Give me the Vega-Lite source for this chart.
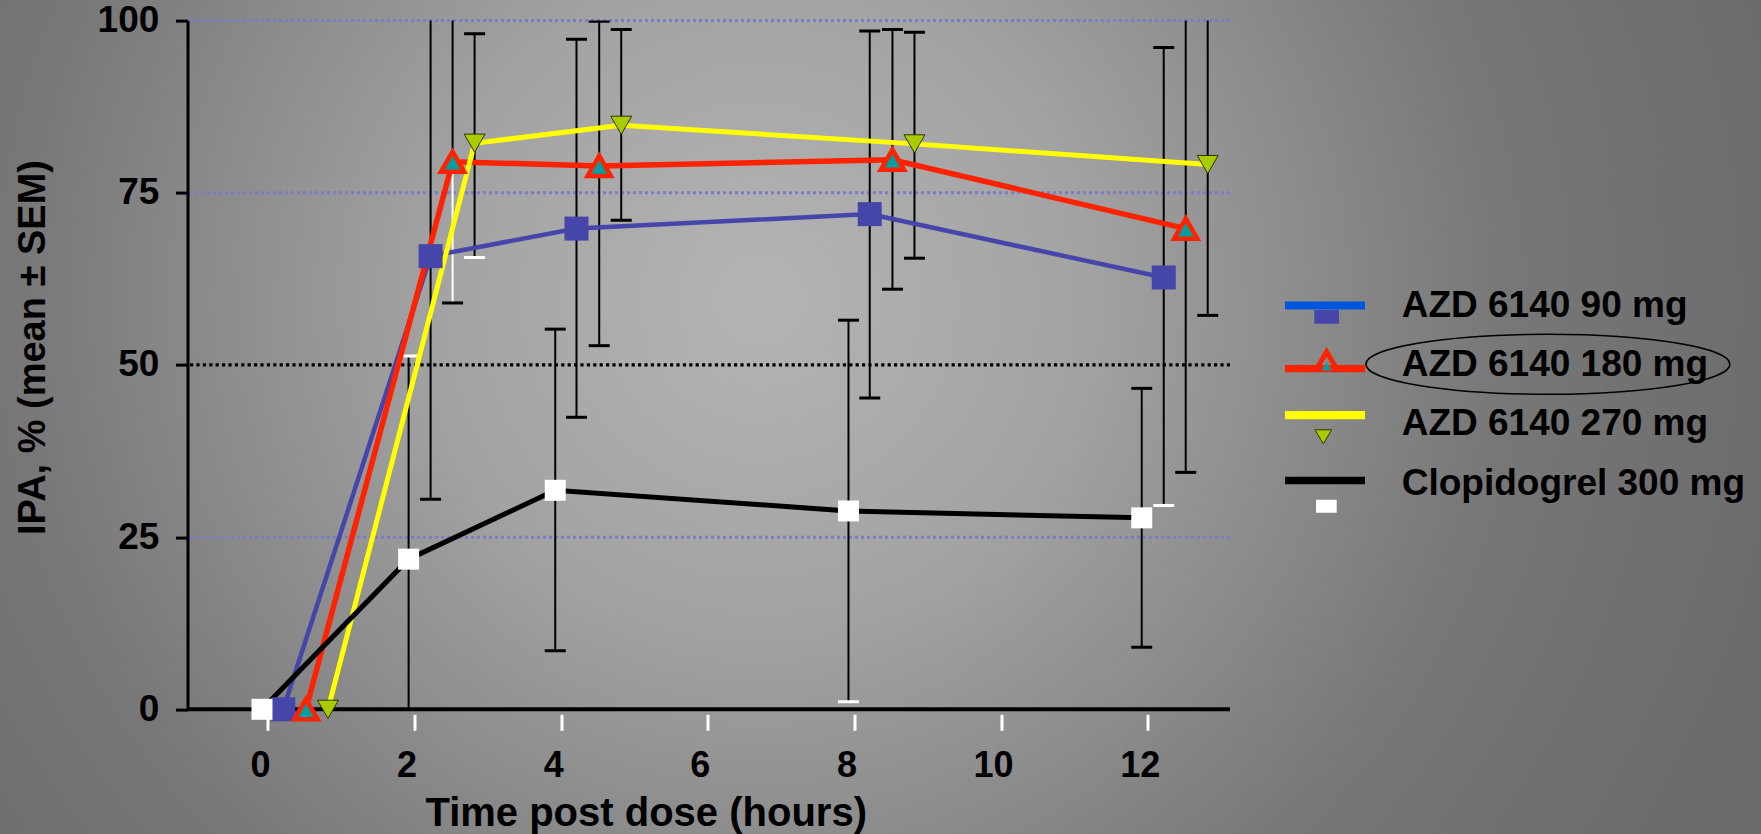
{
  "$schema": "https://vega.github.io/schema/vega-lite/v6.json",
  "width": 1042.5,
  "height": 688.7,
  "autosize": {"type": "none"},
  "padding": {"left": 187.5, "top": 20.6, "right": 531, "bottom": 124.7},
  "background": "#8a8a8a",
  "config": {
    "font": "Liberation Sans",
    "view": {"stroke": null},
    "axisX": {"domain": false, "grid": false, "offset": 5, "ticks": true, "tickColor": "white", "tickSize": 16, "tickWidth": 3, "tickOffset": 6, "labelOffset": -8,
      "labelFont": "Liberation Sans", "labelFontSize": 36, "labelFontWeight": "bold", "labelColor": "black", "labelPadding": 18, "labelFlush": false, "labelBaseline": "top",
      "titleFont": "Liberation Sans", "titleFontSize": 40, "titleFontWeight": "bold", "titleColor": "black",
      "titleX": 458.2, "titleY": 111, "titleBaseline": "alphabetic", "titleAlign": "center"},
    "axisY": {"domain": true, "domainColor": "black", "domainWidth": 3, "grid": false, "tickColor": "black", "tickSize": 12, "tickWidth": 3,
      "labelFont": "Liberation Sans", "labelFontSize": 37, "labelFontWeight": "bold", "labelColor": "black", "labelPadding": 16.7, "labelFlush": false,
      "titleFont": "Liberation Sans", "titleFontSize": 38, "titleFontWeight": "bold", "titleColor": "black",
      "titleAngle": 270, "titleX": -143, "titleY": 326.4, "titleBaseline": "alphabetic", "titleAlign": "center"}
  },
  "data": {"values": [
    {"series": "AZD 6140 90 mg", "dose": 90, "time": 0, "x": 0.29, "ipa": 0, "lo": 0, "hi": 0},
    {"series": "AZD 6140 90 mg", "dose": 90, "time": 2, "x": 2.30, "ipa": 65.8, "lo": 30.5, "hi": 101.1},
    {"series": "AZD 6140 90 mg", "dose": 90, "time": 4, "x": 4.29, "ipa": 69.8, "lo": 42.4, "hi": 97.3},
    {"series": "AZD 6140 90 mg", "dose": 90, "time": 8, "x": 8.29, "ipa": 71.9, "lo": 45.2, "hi": 98.5},
    {"series": "AZD 6140 90 mg", "dose": 90, "time": 12, "x": 12.30, "ipa": 62.7, "lo": 29.6, "hi": 96.1},
    {"series": "AZD 6140 180 mg", "dose": 180, "time": 0, "x": 0.60, "ipa": 0, "lo": 0, "hi": 0},
    {"series": "AZD 6140 180 mg", "dose": 180, "time": 2, "x": 2.60, "ipa": 79.5, "lo": 59.0, "hi": 100.5},
    {"series": "AZD 6140 180 mg", "dose": 180, "time": 4, "x": 4.60, "ipa": 78.9, "lo": 52.8, "hi": 99.9},
    {"series": "AZD 6140 180 mg", "dose": 180, "time": 8, "x": 8.60, "ipa": 79.8, "lo": 61.0, "hi": 98.7},
    {"series": "AZD 6140 180 mg", "dose": 180, "time": 12, "x": 12.60, "ipa": 69.8, "lo": 34.4, "hi": 105.2},
    {"series": "AZD 6140 270 mg", "dose": 270, "time": 0, "x": 0.90, "ipa": 0, "lo": 0, "hi": 0},
    {"series": "AZD 6140 270 mg", "dose": 270, "time": 2, "x": 2.90, "ipa": 82.2, "lo": 65.6, "hi": 98.1},
    {"series": "AZD 6140 270 mg", "dose": 270, "time": 4, "x": 4.90, "ipa": 84.8, "lo": 71.0, "hi": 98.7},
    {"series": "AZD 6140 270 mg", "dose": 270, "time": 8, "x": 8.90, "ipa": 82.1, "lo": 65.5, "hi": 98.3},
    {"series": "AZD 6140 270 mg", "dose": 270, "time": 12, "x": 12.90, "ipa": 79.1, "lo": 57.2, "hi": 101.0},
    {"series": "Clopidogrel 300 mg", "dose": 300, "time": 0, "x": 0.0, "ipa": 0, "lo": 0, "hi": 0},
    {"series": "Clopidogrel 300 mg", "dose": 300, "time": 2, "x": 2.0, "ipa": 21.8, "lo": -7.7, "hi": 51.3},
    {"series": "Clopidogrel 300 mg", "dose": 300, "time": 4, "x": 4.0, "ipa": 31.8, "lo": 8.5, "hi": 55.2},
    {"series": "Clopidogrel 300 mg", "dose": 300, "time": 8, "x": 8.0, "ipa": 28.8, "lo": 1.1, "hi": 56.5},
    {"series": "Clopidogrel 300 mg", "dose": 300, "time": 12, "x": 12.0, "ipa": 27.8, "lo": 9.0, "hi": 46.6}
  ]},
  "layer": [
    {
      "data": {"values": [{}]},
      "mark": {"type": "rect", "fill": {"gradient": "radial", "x1": 0.4318, "y1": 0.4346, "r1": 0, "x2": 0.4318, "y2": 0.4346, "r2": 0.6, "stops": [{"offset": 0, "color": "#b4b4b4"}, {"offset": 0.3, "color": "#a3a3a3"}, {"offset": 0.7, "color": "#777777"}, {"offset": 1, "color": "#6a6a6a"}]}},
      "encoding": {
        "x": {"datum": -3.7, "type": "quantitative", "scale": {"domain": [-1.016, 13.204], "nice": false, "zero": false}, "axis": {"values": [0, 2, 4, 6, 8, 10, 12], "title": "Time post dose (hours)", "zindex": 1}},
        "x2": {"datum": 20.6},
        "y": {"datum": -18.5, "type": "quantitative", "scale": {"domain": [0, 100], "nice": false, "zero": false}, "axis": {"values": [0, 25, 50, 75, 100], "title": "IPA, % (mean ± SEM)", "zindex": 1}},
        "y2": {"datum": 103.5}
      }
    },
    {
      "data": {"values": [{}]},
      "mark": {"type": "rule", "color": "#7b7bc8", "strokeWidth": 3, "strokeDash": [3, 3]},
      "encoding": {"y": {"datum": 25, "type": "quantitative", "scale": {"domain": [0, 100], "nice": false, "zero": false}, "axis": {"values": [0, 25, 50, 75, 100], "title": "IPA, % (mean ± SEM)", "zindex": 1}}}
    },
    {
      "data": {"values": [{}]},
      "mark": {"type": "rule", "color": "#7b7bc8", "strokeWidth": 3, "strokeDash": [3, 3]},
      "encoding": {"y": {"datum": 75, "type": "quantitative", "scale": {"domain": [0, 100], "nice": false, "zero": false}, "axis": {"values": [0, 25, 50, 75, 100], "title": "IPA, % (mean ± SEM)", "zindex": 1}}}
    },
    {
      "data": {"values": [{}]},
      "mark": {"type": "rule", "color": "#7b7bc8", "strokeWidth": 3, "strokeDash": [3, 3]},
      "encoding": {"y": {"datum": 100, "type": "quantitative", "scale": {"domain": [0, 100], "nice": false, "zero": false}, "axis": {"values": [0, 25, 50, 75, 100], "title": "IPA, % (mean ± SEM)", "zindex": 1}}}
    },
    {
      "data": {"values": [{}]},
      "mark": {"type": "rule", "color": "black", "strokeWidth": 3.2, "strokeDash": [3.2, 3.2]},
      "encoding": {"y": {"datum": 50, "type": "quantitative", "scale": {"domain": [0, 100], "nice": false, "zero": false}, "axis": {"values": [0, 25, 50, 75, 100], "title": "IPA, % (mean ± SEM)", "zindex": 1}}}
    },
    {
      "transform": [{"filter": "datum.time > 0"}],
      "mark": {"type": "rule", "strokeWidth": 2, "clip": true, "color": "black"},
      "encoding": {
        "x": {"field": "x", "type": "quantitative", "scale": {"domain": [-1.016, 13.204], "nice": false, "zero": false}, "axis": {"values": [0, 2, 4, 6, 8, 10, 12], "title": "Time post dose (hours)", "zindex": 1}},
        "y": {"field": "ipa", "type": "quantitative", "scale": {"domain": [0, 100], "nice": false, "zero": false}, "axis": {"values": [0, 25, 50, 75, 100], "title": "IPA, % (mean ± SEM)", "zindex": 1}},
        "y2": {"field": "hi"}
      }
    },
    {
      "transform": [{"filter": "datum.time > 0"}],
      "mark": {"type": "rule", "strokeWidth": 2, "clip": true},
      "encoding": {
        "x": {"field": "x", "type": "quantitative", "scale": {"domain": [-1.016, 13.204], "nice": false, "zero": false}, "axis": {"values": [0, 2, 4, 6, 8, 10, 12], "title": "Time post dose (hours)", "zindex": 1}},
        "y": {"field": "lo", "type": "quantitative", "scale": {"domain": [0, 100], "nice": false, "zero": false}, "axis": {"values": [0, 25, 50, 75, 100], "title": "IPA, % (mean ± SEM)", "zindex": 1}},
        "y2": {"field": "ipa"},
        "color": {"condition": {"test": "datum.dose === 180 && datum.time === 2", "value": "white"}, "value": "black"}
      }
    },
    {
      "transform": [{"filter": "datum.time > 0"}],
      "mark": {"type": "point", "shape": "M-1,0H1", "size": 441, "filled": false, "strokeWidth": 3, "opacity": 1, "clip": true},
      "encoding": {
        "x": {"field": "x", "type": "quantitative", "scale": {"domain": [-1.016, 13.204], "nice": false, "zero": false}, "axis": {"values": [0, 2, 4, 6, 8, 10, 12], "title": "Time post dose (hours)", "zindex": 1}},
        "y": {"field": "hi", "type": "quantitative", "scale": {"domain": [0, 100], "nice": false, "zero": false}, "axis": {"values": [0, 25, 50, 75, 100], "title": "IPA, % (mean ± SEM)", "zindex": 1}},
        "color": {"condition": {"test": "datum.dose === 300 && datum.time === 2", "value": "white"}, "value": "black"}
      }
    },
    {
      "transform": [{"filter": "datum.time > 0"}],
      "mark": {"type": "point", "shape": "M-1,0H1", "size": 441, "filled": false, "strokeWidth": 3, "opacity": 1, "clip": true},
      "encoding": {
        "x": {"field": "x", "type": "quantitative", "scale": {"domain": [-1.016, 13.204], "nice": false, "zero": false}, "axis": {"values": [0, 2, 4, 6, 8, 10, 12], "title": "Time post dose (hours)", "zindex": 1}},
        "y": {"field": "lo", "type": "quantitative", "scale": {"domain": [0, 100], "nice": false, "zero": false}, "axis": {"values": [0, 25, 50, 75, 100], "title": "IPA, % (mean ± SEM)", "zindex": 1}},
        "color": {"condition": {"test": "(datum.dose === 270 && datum.time === 2) || (datum.dose === 300 && datum.time === 8) || (datum.dose === 90 && datum.time === 12)", "value": "white"}, "value": "black"}
      }
    },
    {
      "data": {"values": [{}]},
      "mark": {"type": "rule", "color": "black", "strokeWidth": 4},
      "encoding": {"y": {"datum": 0, "type": "quantitative", "scale": {"domain": [0, 100], "nice": false, "zero": false}, "axis": {"values": [0, 25, 50, 75, 100], "title": "IPA, % (mean ± SEM)", "zindex": 1}}}
    },
    {
      "transform": [{"filter": "datum.dose === 90"}],
      "mark": {"type": "line", "color": "#4545aa", "strokeWidth": 4.5},
      "encoding": {
        "x": {"field": "x", "type": "quantitative", "scale": {"domain": [-1.016, 13.204], "nice": false, "zero": false}, "axis": {"values": [0, 2, 4, 6, 8, 10, 12], "title": "Time post dose (hours)", "zindex": 1}},
        "y": {"field": "ipa", "type": "quantitative", "scale": {"domain": [0, 100], "nice": false, "zero": false}, "axis": {"values": [0, 25, 50, 75, 100], "title": "IPA, % (mean ± SEM)", "zindex": 1}}
      }
    },
    {
      "transform": [{"filter": "datum.dose === 180"}],
      "mark": {"type": "line", "color": "#ff2200", "strokeWidth": 5.5},
      "encoding": {
        "x": {"field": "x", "type": "quantitative", "scale": {"domain": [-1.016, 13.204], "nice": false, "zero": false}, "axis": {"values": [0, 2, 4, 6, 8, 10, 12], "title": "Time post dose (hours)", "zindex": 1}},
        "y": {"field": "ipa", "type": "quantitative", "scale": {"domain": [0, 100], "nice": false, "zero": false}, "axis": {"values": [0, 25, 50, 75, 100], "title": "IPA, % (mean ± SEM)", "zindex": 1}}
      }
    },
    {
      "transform": [{"filter": "datum.dose === 270"}],
      "mark": {"type": "line", "color": "#ffff00", "strokeWidth": 5},
      "encoding": {
        "x": {"field": "x", "type": "quantitative", "scale": {"domain": [-1.016, 13.204], "nice": false, "zero": false}, "axis": {"values": [0, 2, 4, 6, 8, 10, 12], "title": "Time post dose (hours)", "zindex": 1}},
        "y": {"field": "ipa", "type": "quantitative", "scale": {"domain": [0, 100], "nice": false, "zero": false}, "axis": {"values": [0, 25, 50, 75, 100], "title": "IPA, % (mean ± SEM)", "zindex": 1}}
      }
    },
    {
      "transform": [{"filter": "datum.dose === 300"}],
      "mark": {"type": "line", "color": "#000000", "strokeWidth": 5},
      "encoding": {
        "x": {"field": "x", "type": "quantitative", "scale": {"domain": [-1.016, 13.204], "nice": false, "zero": false}, "axis": {"values": [0, 2, 4, 6, 8, 10, 12], "title": "Time post dose (hours)", "zindex": 1}},
        "y": {"field": "ipa", "type": "quantitative", "scale": {"domain": [0, 100], "nice": false, "zero": false}, "axis": {"values": [0, 25, 50, 75, 100], "title": "IPA, % (mean ± SEM)", "zindex": 1}}
      }
    },
    {
      "transform": [{"filter": "datum.dose === 90"}],
      "mark": {"type": "point", "shape": "square", "size": 576, "filled": true, "fill": "#4545aa", "strokeWidth": 0, "opacity": 1},
      "encoding": {
        "x": {"field": "x", "type": "quantitative", "scale": {"domain": [-1.016, 13.204], "nice": false, "zero": false}, "axis": {"values": [0, 2, 4, 6, 8, 10, 12], "title": "Time post dose (hours)", "zindex": 1}},
        "y": {"field": "ipa", "type": "quantitative", "scale": {"domain": [0, 100], "nice": false, "zero": false}, "axis": {"values": [0, 25, 50, 75, 100], "title": "IPA, % (mean ± SEM)", "zindex": 1}}
      }
    },
    {
      "transform": [{"filter": "datum.dose === 180"}],
      "mark": {"type": "point", "shape": "triangle-up", "size": 540, "filled": true, "fill": "#00a0a0", "stroke": "#ff2200", "strokeWidth": 4.5, "opacity": 1},
      "encoding": {
        "x": {"field": "x", "type": "quantitative", "scale": {"domain": [-1.016, 13.204], "nice": false, "zero": false}, "axis": {"values": [0, 2, 4, 6, 8, 10, 12], "title": "Time post dose (hours)", "zindex": 1}},
        "y": {"field": "ipa", "type": "quantitative", "scale": {"domain": [0, 100], "nice": false, "zero": false}, "axis": {"values": [0, 25, 50, 75, 100], "title": "IPA, % (mean ± SEM)", "zindex": 1}}
      }
    },
    {
      "transform": [{"filter": "datum.dose === 270"}],
      "mark": {"type": "point", "shape": "triangle-down", "size": 440, "filled": true, "fill": "#a8cc00", "stroke": "#333300", "strokeWidth": 1, "opacity": 1},
      "encoding": {
        "x": {"field": "x", "type": "quantitative", "scale": {"domain": [-1.016, 13.204], "nice": false, "zero": false}, "axis": {"values": [0, 2, 4, 6, 8, 10, 12], "title": "Time post dose (hours)", "zindex": 1}},
        "y": {"field": "ipa", "type": "quantitative", "scale": {"domain": [0, 100], "nice": false, "zero": false}, "axis": {"values": [0, 25, 50, 75, 100], "title": "IPA, % (mean ± SEM)", "zindex": 1}}
      }
    },
    {
      "transform": [{"filter": "datum.dose === 300"}],
      "mark": {"type": "point", "shape": "square", "size": 441, "filled": true, "fill": "#ffffff", "strokeWidth": 0, "opacity": 1},
      "encoding": {
        "x": {"field": "x", "type": "quantitative", "scale": {"domain": [-1.016, 13.204], "nice": false, "zero": false}, "axis": {"values": [0, 2, 4, 6, 8, 10, 12], "title": "Time post dose (hours)", "zindex": 1}},
        "y": {"field": "ipa", "type": "quantitative", "scale": {"domain": [0, 100], "nice": false, "zero": false}, "axis": {"values": [0, 25, 50, 75, 100], "title": "IPA, % (mean ± SEM)", "zindex": 1}}
      }
    },
    {
      "data": {"values": [{}]},
      "mark": {"type": "point", "shape": "M1,0C1,0.091 0.5523,0.1648 0,0.1648C-0.5523,0.1648 -1,0.091 -1,0C-1,-0.091 -0.5523,-0.1648 0,-0.1648C0.5523,-0.1648 1,-0.091 1,0Z", "size": 132496, "filled": false, "stroke": "black", "strokeWidth": 1.6, "opacity": 1},
      "encoding": {
        "x": {"datum": 17.54, "type": "quantitative", "scale": {"domain": [-1.016, 13.204], "nice": false, "zero": false}, "axis": {"values": [0, 2, 4, 6, 8, 10, 12], "title": "Time post dose (hours)", "zindex": 1}},
        "y": {"datum": 50.1, "type": "quantitative", "scale": {"domain": [0, 100], "nice": false, "zero": false}, "axis": {"values": [0, 25, 50, 75, 100], "title": "IPA, % (mean ± SEM)", "zindex": 1}}
      }
    },
    {
      "transform": [{"filter": "false"}],
      "mark": {"type": "point", "filled": true, "opacity": 1},
      "encoding": {
        "x": {"field": "x", "type": "quantitative", "scale": {"domain": [-1.016, 13.204], "nice": false, "zero": false}, "axis": {"values": [0, 2, 4, 6, 8, 10, 12], "title": "Time post dose (hours)", "zindex": 1}},
        "y": {"field": "ipa", "type": "quantitative", "scale": {"domain": [0, 100], "nice": false, "zero": false}, "axis": {"values": [0, 25, 50, 75, 100], "title": "IPA, % (mean ± SEM)", "zindex": 1}},
        "shape": {"field": "series", "type": "nominal",
          "scale": {"domain": ["AZD 6140 90 mg", "AZD 6140 180 mg", "AZD 6140 270 mg", "Clopidogrel 300 mg"],
            "range": ["M-2,-0.205H2V0.195H-2Z M-2,-1L-2,-1 M2,1L2,1",
              "M-2,0H2V0.365H-2Z M0.083,-0.915L0.615,0L-0.45,0Z M0.083,-0.415L-0.165,0L0.335,0Z M-2,-1L-2,-1 M2,1L2,1",
              "M-2,-0.67H2V-0.255H-2Z M-2,-1L-2,-1 M2,1L2,1",
              "M-2,-0.355H2V0.025H-2Z M-2,-1L-2,-1 M2,1L2,1"]},
          "legend": {"orient": "none", "legendX": 1117.5, "legendY": 265, "title": null, "symbolSize": 1600, "symbolStrokeWidth": 0, "symbolOpacity": 1,
            "labelFont": "Liberation Sans", "labelFontSize": 37, "labelFontWeight": "bold", "labelColor": "black", "labelLimit": 500,
            "labelOffset": 56.7, "rowPadding": 19.4, "padding": 0}},
        "fill": {"field": "series", "type": "nominal",
          "scale": {"domain": ["AZD 6140 90 mg", "AZD 6140 180 mg", "AZD 6140 270 mg", "Clopidogrel 300 mg"],
            "range": ["#0055dd", "#ff2200", "#ffff00", "#000000"]},
          "legend": {"orient": "none", "legendX": 1117.5, "legendY": 265, "title": null, "symbolSize": 1600, "symbolStrokeWidth": 0, "symbolOpacity": 1,
            "labelFont": "Liberation Sans", "labelFontSize": 37, "labelFontWeight": "bold", "labelColor": "black", "labelLimit": 500,
            "labelOffset": 56.7, "rowPadding": 19.4, "padding": 0}}
      }
    },
    {
      "transform": [{"filter": "false"}],
      "mark": {"type": "point", "filled": true, "opacity": 1},
      "encoding": {
        "x": {"field": "x", "type": "quantitative", "scale": {"domain": [-1.016, 13.204], "nice": false, "zero": false}, "axis": {"values": [0, 2, 4, 6, 8, 10, 12], "title": "Time post dose (hours)", "zindex": 1}},
        "y": {"field": "ipa", "type": "quantitative", "scale": {"domain": [0, 100], "nice": false, "zero": false}, "axis": {"values": [0, 25, 50, 75, 100], "title": "IPA, % (mean ± SEM)", "zindex": 1}},
        "shape": {"field": "dose", "type": "nominal",
          "scale": {"domain": [90, 180, 270, 300],
            "range": ["M-0.535,0.195H0.7V0.885H-0.535Z M-2,-1L-2,-1 M2,1L2,1", "M0.083,-0.415L-0.165,0L0.335,0Z M-2,-1L-2,-1 M2,1L2,1", "M-0.5,-0.255L0.335,-0.255L-0.085,0.445Z M-2,-1L-2,-1 M2,1L2,1", "M-0.45,0.025H0.585V0.675H-0.45Z M-2,-1L-2,-1 M2,1L2,1"]},
          "legend": {"orient": "none", "legendX": 1117, "legendY": 265, "title": null, "symbolSize": 1600, "symbolStrokeWidth": 1, "symbolOpacity": 1,
            "labelFontSize": 37, "labelExpr": "''", "rowPadding": 19.4, "padding": 0}},
        "fill": {"field": "dose", "type": "nominal",
          "scale": {"domain": [90, 180, 270, 300], "range": ["#4545aa", "#00a0a0", "#a8cc00", "#ffffff"]},
          "legend": {"orient": "none", "legendX": 1117, "legendY": 265, "title": null, "symbolSize": 1600, "symbolStrokeWidth": 1, "symbolOpacity": 1,
            "labelFontSize": 37, "labelExpr": "''", "rowPadding": 19.4, "padding": 0}},
        "stroke": {"field": "dose", "type": "nominal",
          "scale": {"domain": [90, 180, 270, 300], "range": ["transparent", "transparent", "#333300", "transparent"]},
          "legend": {"orient": "none", "legendX": 1117, "legendY": 265, "title": null, "symbolSize": 1600, "symbolStrokeWidth": 1, "symbolOpacity": 1,
            "labelFontSize": 37, "labelExpr": "''", "rowPadding": 19.4, "padding": 0}}
      }
    }
  ],
  "resolve": {"scale": {"shape": "independent", "fill": "independent", "stroke": "independent"}, "legend": {"shape": "independent", "fill": "independent", "stroke": "independent"}}
}
